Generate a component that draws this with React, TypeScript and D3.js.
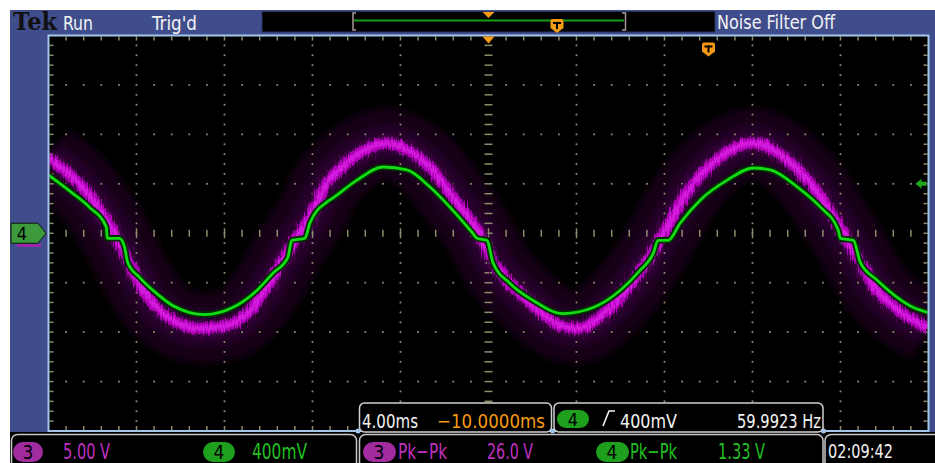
import React from "react";
import * as d3 from "d3";

// ---- data (time in ms, relative to screen centre) ----
const ch4Time = [-20.0, -18.91, -18.14, -17.37, -17.33, -16.77, -16.54, -16.4, -15.86, -15.09, -14.36, -13.58, -12.9, -11.63, -10.53, -9.81, -9.12, -8.94, -8.35, -8.12, -7.35, -7.08, -5.98, -4.8, -3.71, -2.66, -1.75, -0.75, -0.52, -0.07, 0.2, 0.98, 2.03, 3.39, 4.76, 5.98, 6.89, 7.49, 7.71, 8.17, 8.71, 9.62, 10.85, 12.04, 12.81, 14.04, 15.09, 15.9, 15.99, 16.59, 16.9, 17.68, 18.59, 19.32, 20.0];
const ch4Volts = [0.471, 0.325, 0.211, 0.049, -0.041, -0.041, -0.114, -0.236, -0.357, -0.487, -0.585, -0.642, -0.658, -0.601, -0.463, -0.325, -0.195, -0.057, -0.041, 0.081, 0.252, 0.284, 0.43, 0.536, 0.512, 0.374, 0.211, 0.008, -0.041, -0.057, -0.236, -0.406, -0.544, -0.65, -0.601, -0.463, -0.301, -0.162, -0.057, -0.057, 0.081, 0.268, 0.43, 0.528, 0.512, 0.374, 0.211, 0.024, -0.041, -0.057, -0.236, -0.382, -0.52, -0.601, -0.642];

const ch3Time = [-20.0, -18.91, -18.14, -17.37, -16.77, -15.99, -15.09, -14.04, -13.13, -11.9, -10.99, -10.08, -9.17, -7.99, -7.35, -6.89, -5.85, -4.62, -3.71, -2.66, -1.62, -0.52, 0.39, 1.3, 2.48, 3.25, 4.03, 5.53, 7.03, 8.12, 8.94, 10.53, 12.04, 13.58, 14.77, 15.68, 16.59, 17.68, 18.86, 19.95];
const ch3Volts = [7.61, 5.69, 3.86, 1.32, -1.02, -4.47, -7.51, -9.14, -9.64, -9.34, -8.12, -5.48, -2.03, 2.13, 5.08, 6.19, 8.12, 9.14, 8.43, 6.7, 3.65, 0.3, -3.45, -5.79, -8.12, -9.34, -9.64, -7.51, -3.45, 0.61, 3.86, 7.72, 9.14, 7.41, 4.67, 1.62, -1.73, -5.79, -8.12, -9.54];

const timeDomain = [-20, 20]; // 4.00 ms/div x 10
const ch4Domain = [-1.6, 1.6]; // 400 mV/div x 8
const ch3Domain = [-20, 20]; // 5.00 V/div x 8
const triggerTime = 10; // ms
const triggerLevel = 0.4; // V on ch4

const topLabels = ["Run", "Trig'd", "Noise Filter Off"];
const ch3Scale = "5.00 V";
const ch4Scale = "400mV";
const horizLabel = "4.00ms";
const posLabel = "\u221210.0000ms";
const trigLabel = "400mV";
const freqLabel = "59.9923 Hz";
const measLabel = "Pk\u2212Pk";
const ch3Meas = "26.0 V";
const ch4Meas = "1.33 V";
const clockLabel = "02:09:42";

const BLUE = "#404d8c";
const DOT = "#8c8c6c";
const MAG = "#c030c0";
const GRN = "#22c022";
const ORANGE = "#f59a14";
const NARROW = "'Liberation Sans Narrow','DejaVu Sans Condensed','Roboto',sans-serif";

function TMarker({ cx, top }: { cx: number; top: number }) {
  const w = 13;
  return (
    <g>
      <path
        d={`M${cx - w / 2},${top + 2} Q${cx - w / 2},${top} ${cx - w / 2 + 2},${top} H${cx + w / 2 - 2} Q${cx + w / 2},${top} ${cx + w / 2},${top + 2} V${top + 9} L${cx},${top + 14} L${cx - w / 2},${top + 9} Z`}
        fill={ORANGE}
      />
      <rect x={cx - 4} y={top + 3} width={8} height={2} fill="#000" />
      <rect x={cx - 1} y={top + 3} width={2} height={7} fill="#000" />
    </g>
  );
}

export default function App() {
  const W = 935, H = 463;
  const L = 48.5, R = 928.5, T = 35.5, B = 431;
  const x = d3.scaleLinear().domain(timeDomain).range([L, R]);
  const y4 = d3.scaleLinear().domain(ch4Domain).range([B, T]);
  const y3 = d3.scaleLinear().domain(ch3Domain).range([B, T]);

  const majorX = d3.range(0, 11).map((k) => timeDomain[0] + 4 * k);
  const minorX = d3.range(0, 51).map((k) => timeDomain[0] + 0.8 * k);
  const majorY = d3.range(0, 9).map((j) => ch4Domain[0] + 0.4 * j);
  const minorY = d3.range(0, 41).map((j) => ch4Domain[0] + 0.08 * j);

  const g4 = d3.zip(ch4Time, ch4Volts) as [number, number][];
  const g3 = d3.zip(ch3Time, ch3Volts) as [number, number][];
  const line4 = d3.line<[number, number]>().x((d) => x(d[0])).y((d) => y4(d[1])).curve(d3.curveMonotoneX);
  const line3 = d3.line<[number, number]>().x((d) => x(d[0])).y((d) => y3(d[1])).curve(d3.curveMonotoneX);
  const p4 = line4(g4) || "";
  const p3 = line3(g3) || "";

  const cx0 = x(0), cy0 = y4(0);
  const grid: JSX.Element[] = [];
  majorX.forEach((mx, k) => {
    if (k === 0 || k === 10) return;
    minorY.forEach((my, j) => {
      if (j === 0 || j === 40) return;
      if (k === 5) grid.push(<rect key={`cv${j}`} x={x(mx) - 4} y={y4(my) - 0.75} width={8} height={1.5} fill={DOT} />);
      else grid.push(<rect key={`v${k}-${j}`} x={x(mx) - 0.9} y={y4(my) - 0.9} width={1.8} height={1.8} fill={DOT} />);
    });
  });
  majorY.forEach((my, j) => {
    if (j === 0 || j === 8) return;
    minorX.forEach((mx, k) => {
      if (k === 0 || k === 50) return;
      if (j === 4) grid.push(<rect key={`ch${k}`} x={x(mx) - 0.75} y={y4(my) - (k % 5 === 0 ? 5 : 3.5)} width={1.5} height={k % 5 === 0 ? 10 : 7} fill={DOT} />);
      else if (k % 5 !== 0) grid.push(<rect key={`h${j}-${k}`} x={x(mx) - 0.9} y={y4(my) - 0.9} width={1.8} height={1.8} fill={DOT} />);
    });
  });
  minorX.forEach((mx, k) => {
    if (k === 0 || k === 50) return;
    grid.push(<rect key={`tt${k}`} x={x(mx) - 0.75} y={T + 1} width={1.5} height={4} fill={DOT} />);
    grid.push(<rect key={`tb${k}`} x={x(mx) - 0.75} y={B - 5} width={1.5} height={4} fill={DOT} />);
  });
  minorY.forEach((my, j) => {
    if (j === 0 || j === 40) return;
    grid.push(<rect key={`tl${j}`} x={L + 1} y={y4(my) - 0.75} width={4} height={1.5} fill={DOT} />);
    grid.push(<rect key={`tr${j}`} x={R - 5} y={y4(my) - 0.75} width={4} height={1.5} fill={DOT} />);
  });

  const trigX = x(triggerTime);
  const trigY = y4(triggerLevel);

  return (
    <svg width={W} height={H} style={{ position: "absolute", left: 0, top: 0, display: "block" }} fontFamily={NARROW}>
      <defs>
        <clipPath id="plot">
          <rect x={L + 1} y={T + 1} width={R - L - 2} height={B - T - 2} />
        </clipPath>
        <filter id="haze" x="-10%" y="-30%" width="120%" height="160%">
          <feGaussianBlur stdDeviation="5" />
        </filter>
        <filter id="jit" x="-5%" y="-30%" width="110%" height="160%">
          <feTurbulence type="fractalNoise" baseFrequency="0.7 0.04" numOctaves="2" seed="4" result="n" />
          <feDisplacementMap in="SourceGraphic" in2="n" scale="9" xChannelSelector="R" yChannelSelector="G" />
        </filter>
        <filter id="jit2" x="-5%" y="-30%" width="110%" height="160%">
          <feTurbulence type="fractalNoise" baseFrequency="0.9 0.06" numOctaves="1" seed="9" result="n" />
          <feDisplacementMap in="SourceGraphic" in2="n" scale="16" xChannelSelector="R" yChannelSelector="G" />
        </filter>
      </defs>
      <rect x={0} y={0} width={W} height={H} fill="#ffffff" />
      <rect x={10} y={10} width={W - 10} height={H - 10} fill={BLUE} />

      {/* top bar */}
      <text x={13} y={30} fontFamily="'DejaVu Serif','Liberation Serif',serif" fontWeight="bold" fontSize={24} fill="#111" textLength={44} lengthAdjust="spacingAndGlyphs">Tek</text>
      <text x={63} y={30} fontSize={20} fill="#f2f2f2" textLength={30} lengthAdjust="spacingAndGlyphs">{topLabels[0]}</text>
      <text x={152} y={30} fontSize={20} fill="#f2f2f2" textLength={45} lengthAdjust="spacingAndGlyphs">{topLabels[1]}</text>
      <rect x={262} y={11.5} width={453} height={20.5} fill="#000" stroke="#2c3566" strokeWidth={1} />
      <line x1={354} x2={624} y1={20.5} y2={20.5} stroke="#10a010" strokeWidth={2} />
      <path d="M356,13 H353 V30 H356" fill="none" stroke="#a89898" strokeWidth={1.5} />
      <path d="M622,13 H625.5 V30 H622" fill="none" stroke="#a89898" strokeWidth={1.5} />
      <path d={`M${cx0 - 6},12 H${cx0 + 6} L${cx0},18 Z`} fill={ORANGE} />
      <TMarker cx={557} top={19} />
      <text x={717} y={29} fontSize={20} fill="#f2f2f2" textLength={118} lengthAdjust="spacingAndGlyphs">{topLabels[2]}</text>

      {/* graticule */}
      <rect x={L} y={T} width={R - L} height={B - T} fill="#000" />
      <g clipPath="url(#plot)">
        <path d={p3} fill="none" stroke="#170019" strokeWidth={70} strokeLinejoin="round" filter="url(#haze)" />
        <path d={p3} fill="none" stroke="#270029" strokeWidth={36} strokeLinejoin="round" filter="url(#haze)" />
      </g>
      <g>{grid}</g>
      <g clipPath="url(#plot)">
        <path d={p3} fill="none" stroke="#4a0050" strokeWidth={16} strokeLinejoin="round" filter="url(#jit2)" opacity={0.8} />
        <path d={p3} fill="none" stroke="#b000b8" strokeWidth={11} strokeLinejoin="round" filter="url(#jit)" />
        <path d={p3} fill="none" stroke="#d81ee0" strokeWidth={5} strokeLinejoin="round" filter="url(#jit)" opacity={0.9} />
        <path d={p4} fill="none" stroke="#002e00" strokeWidth={6.5} strokeLinejoin="round" />
        <path d={p4} fill="none" stroke="#14dc14" strokeWidth={2.8} strokeLinejoin="round" />
      </g>
      <rect x={L} y={T} width={R - L} height={B - T} fill="none" stroke="#a4c6ea" strokeWidth={2} />
      <path d={`M${cx0 - 6},${T + 1} H${cx0 + 6} L${cx0},${T + 8} Z`} fill={ORANGE} />
      <TMarker cx={trigX} top={T + 7} />
      <path d={`M${R - 13},${trigY} L${R - 7},${trigY - 5} V${trigY - 2} H${R - 2} V${trigY + 2} H${R - 7} V${trigY + 5} Z`} fill="#1ea81e" />

      {/* channel marker */}
      <rect x={17} y={cy0 + 11} width={24} height={2.5} fill="#b020b0" />
      <path d={`M11,${cy0 - 10} H38 L46,${cy0} L38,${cy0 + 10} H11 Z`} fill="#3c9a3c" stroke="#0a1a0a" strokeWidth={1} />
      <text x={22} y={cy0 + 7} fontSize={18} fill="#000" textAnchor="middle">4</text>

      {/* bottom area */}
      <rect x={10} y={B + 1} width={W - 10} height={H - B} fill="#000" />
      <rect x={11.5} y={434.5} width={345} height={40} rx={6} fill="#000" stroke="#c8c8c8" strokeWidth={1.5} />
      <rect x={13} y={442} width={30} height={20} rx={10} fill="#a02ca0" />
      <text x={28} y={459} fontSize={19} fill="#000" textAnchor="middle">3</text>
      <text x={63} y={459} fontSize={21} fill={MAG} textLength={47} lengthAdjust="spacingAndGlyphs">{ch3Scale}</text>
      <rect x={203} y={442} width={32} height={20} rx={10} fill="#1ea01e" />
      <text x={219} y={459} fontSize={19} fill="#000" textAnchor="middle">4</text>
      <text x={252} y={459} fontSize={21} fill={GRN} textLength={55} lengthAdjust="spacingAndGlyphs">{ch4Scale}</text>

      <rect x={359.5} y={434.5} width={463.5} height={40} rx={6} fill="#000" stroke="#c8c8c8" strokeWidth={1.5} />
      <rect x={363} y={442} width={33} height={20} rx={10} fill="#a02ca0" />
      <text x={379} y={459} fontSize={19} fill="#000" textAnchor="middle">3</text>
      <text x={398} y={459} fontSize={21} fill={MAG} textLength={49} lengthAdjust="spacingAndGlyphs">{measLabel}</text>
      <text x={487} y={459} fontSize={21} fill={MAG} textLength={46} lengthAdjust="spacingAndGlyphs">{ch3Meas}</text>
      <rect x={596} y={442} width={33} height={20} rx={10} fill="#1ea01e" />
      <text x={612} y={459} fontSize={19} fill="#000" textAnchor="middle">4</text>
      <text x={630} y={459} fontSize={21} fill={GRN} textLength={47} lengthAdjust="spacingAndGlyphs">{measLabel}</text>
      <text x={718} y={459} fontSize={21} fill={GRN} textLength={47} lengthAdjust="spacingAndGlyphs">{ch4Meas}</text>

      <rect x={825} y={434.5} width={120} height={40} rx={6} fill="#000" stroke="#c8c8c8" strokeWidth={1.5} />
      <text x={828} y={458} fontSize={20} fill="#f2f2f2" textLength={65} lengthAdjust="spacingAndGlyphs">{clockLabel}</text>

      {/* info boxes on the graticule */}
      <rect x={359.5} y={403} width={192} height={29} rx={5} fill="#000" stroke="#d0d0d0" strokeWidth={1.5} />
      <text x={362} y={428} fontSize={20} fill="#f2f2f2" textLength={56} lengthAdjust="spacingAndGlyphs">{horizLabel}</text>
      <text x={437} y={428} fontSize={20} fill={ORANGE} textLength={108} lengthAdjust="spacingAndGlyphs">{posLabel}</text>
      <rect x={554} y={403} width={269} height={29} rx={5} fill="#000" stroke="#d0d0d0" strokeWidth={1.5} />
      <rect x={557} y={410} width={32} height={18} rx={9} fill="#1ea01e" />
      <text x={573} y={426} fontSize={18} fill="#000" textAnchor="middle">4</text>
      <path d="M603,426 L609,411 H615" fill="none" stroke="#f2f2f2" strokeWidth={1.6} />
      <text x={620} y={428} fontSize={20} fill="#f2f2f2" textLength={57} lengthAdjust="spacingAndGlyphs">{trigLabel}</text>
      <text x={737} y={428} fontSize={20} fill="#f2f2f2" textLength={84} lengthAdjust="spacingAndGlyphs">{freqLabel}</text>
      <circle cx={358} cy={B} r={2.5} fill="#a4c6ea" />
      <circle cx={552.5} cy={B} r={2.5} fill="#a4c6ea" />
      <circle cx={823.5} cy={B} r={2.5} fill="#a4c6ea" />
    </svg>
  );
}
